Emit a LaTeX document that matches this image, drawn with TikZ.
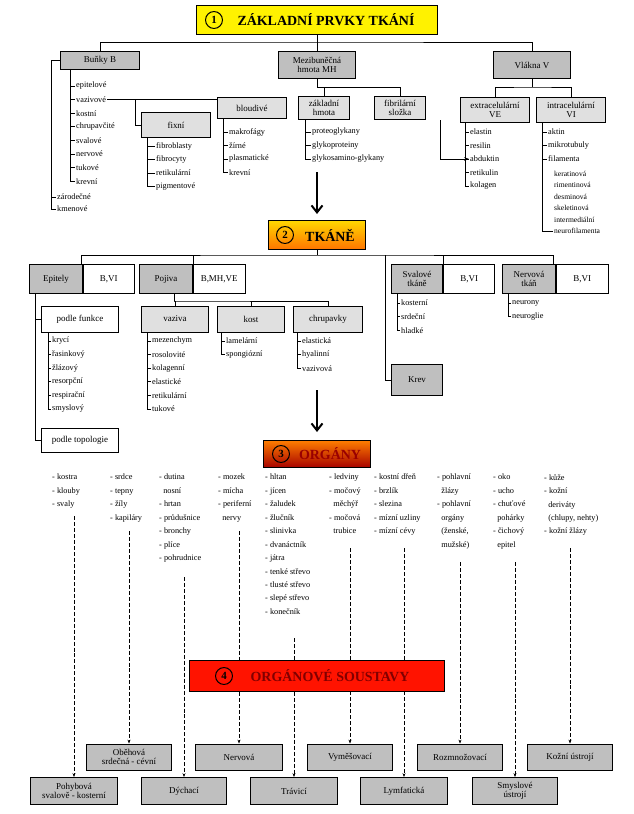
\documentclass[tikz,border=0pt]{standalone}
\usepackage{fontspec}
\setmainfont{Liberation Serif}
\usetikzlibrary{arrows.meta}

\tikzset{
  gbox/.style={draw, line width=0.9pt, fill=black!25, align=center, inner sep=1pt, font=\fontsize{9}{9.5}\selectfont},
  lbox/.style={draw, line width=0.9pt, fill=black!12, align=center, inner sep=1pt, font=\fontsize{9}{9.5}\selectfont},
  wbox/.style={draw, line width=0.9pt, fill=white, align=center, inner sep=1pt, font=\fontsize{9}{9.5}\selectfont},
  item/.style={anchor=west, inner sep=1pt, font=\fontsize{8.3}{9}\selectfont},
  orgtext/.style={anchor=north west, align=left, inner sep=0pt, font=\fontsize{8.3}{13.5}\selectfont},
  title/.style={draw, line width=1pt, font=\bfseries\fontsize{14}{14}\selectfont, inner sep=0pt},
  numcirc/.style={circle, draw, line width=1pt, minimum size=17, inner sep=0pt, font=\bfseries\fontsize{11}{11}\selectfont},
  link/.style={line width=0.8pt},
  dlink/.style={line width=1pt, dash pattern=on 4pt off 2pt, -{Stealth[length=4pt]}}
}

\begin{document}
\begin{tikzpicture}[x=1bp, y=-1bp]
\useasboundingbox (0,0) rectangle (634,814);

%% level 1
\node[title, fill=yellow, minimum width=242, minimum height=29] (t1) at (317,20) {};
\node[numcirc] (t1n) at (214,20) {1};
\node[font=\bfseries\fontsize{14}{14}\selectfont] (t1t) at (326,20) {ZÁKLADNÍ PRVKY TKÁNÍ};

\node[gbox, minimum width=79, minimum height=18] (bu) at (100,60) {Buňky B};
\node[gbox, minimum width=77, minimum height=27] (mh) at (317,65) {Mezibuněčná\\hmota MH};
\node[gbox, minimum width=77, minimum height=27] (vl) at (532,65) {Vlákna V};
\draw[link] (t1.south) -- (317,42);
\draw[link] (bu.north) |- (317,42) -| (vl.north);
\draw[link] (317,42) -- (mh.north);

%% bunky
\foreach \t [count=\i] in {epitelové,vazivové,kostní,chrupavčité,svalové,nervové,tukové,krevní}
  \node[item] (bu\i) at (75,86+13.6*\i-13.6) {\t};
\foreach \i in {1,...,8} \draw[link] (70,0 |- bu\i.west) -- (bu\i.west);
\draw[link] (70,69) -- (70,0 |- bu8.west);
\node[item] (bu9) at (56,197) {zárodečné};
\node[item] (bu10) at (56,209) {kmenové};
\draw[link] (bu.west) -| (51,0 |- bu10.west) -- (bu10.west);
\draw[link] (51,0 |- bu9.west) -- (bu9.west);

\node[lbox, minimum width=70, minimum height=25] (fx) at (176,125) {fixní};
\node[lbox, minimum width=70, minimum height=21] (bl) at (252,108) {bloudivé};
\draw[link] (bu2.east) -- (bl.west |- bu2.east);
\draw[link] (135,0 |- bu2.east) |- (fx.west);
\foreach \t [count=\i] in {fibroblasty,fibrocyty,retikulární,pigmentové}
  \node[item] (fx\i) at (155,146+13.5*\i-13.5) {\t};
\foreach \i in {1,...,4} \draw[link] (147,0 |- fx\i.west) -- (fx\i.west);
\draw[link] (147,137.5) -- (147,0 |- fx4.west);
\foreach \t [count=\i] in {makrofágy,žírné,plasmatické,krevní}
  \node[item] (bl\i) at (228,132+13.5*\i-13.5) {\t};
\foreach \i in {1,...,4} \draw[link] (223,0 |- bl\i.west) -- (bl\i.west);
\draw[link] (223,118.5) -- (223,0 |- bl4.west);

%% mezibunecna hmota
\node[lbox, minimum width=51, minimum height=23] (zh) at (324,108) {základní\\hmota};
\node[lbox, minimum width=51, minimum height=23] (fs) at (400,108) {fibrilární\\složka};
\draw[link] (mh.south) -- (317,87) -| (fs.north);
\draw[link] (zh.north) -- (zh.north |- 0,87);
\foreach \t [count=\i] in {proteoglykany,glykoproteiny,glykosamino-glykany}
  \node[item] (zh\i) at (311,132+13.5*\i-13.5) {\t};
\foreach \i in {1,...,3} \draw[link] (305,0 |- zh\i.west) -- (zh\i.west);
\draw[link] (305,119.5) -- (305,0 |- zh3.west);
\coordinate (fsa) at (440,120);

%% vlakna
\node[lbox, minimum width=70, minimum height=25] (ve) at (495,110) {extracelulární\\VE};
\node[lbox, minimum width=70, minimum height=25] (vi) at (571,110) {intracelulární\\VI};
\draw[link] (vl.south) -- (532,87);
\draw[link] (ve.north) |- (532,87) -| (vi.north);
\foreach \t [count=\i] in {elastin,resilin,abduktin,retikulin,kolagen}
  \node[item] (ve\i) at (469,132+13.5*\i-13.5) {\t};
\foreach \i in {1,...,5} \draw[link] (465,0 |- ve\i.west) -- (ve\i.west);
\draw[link] (465,122.5) -- (465,0 |- ve5.west);
\draw[link, -{Stealth[length=5pt]}] (fsa) |- (ve3.west);
\foreach \t [count=\i] in {aktin,mikrotubuly,filamenta}
  \node[item] (vi\i) at (547,132+13.5*\i-13.5) {\t};
\foreach \t [count=\i] in {keratinová,rimentinová,desminová,skeletinová,intermediální,neurofilamenta}
  \node[item, font=\fontsize{7.6}{8}\selectfont] (vf\i) at (553,174+11.4*\i-11.4) {\t};
\foreach \i in {1,...,3} \draw[link] (542,0 |- vi\i.west) -- (vi\i.west);
\draw[link] (542,122.5) -- (542,0 |- vf6.west) -- (vf6.west);

\draw[line width=2pt, -{Straight Barb[length=7pt, width=11pt]}] (317,172) -- (317,214);

%% level 2
\node[title, top color=yellow!70!orange, bottom color=orange!90!red, minimum width=98, minimum height=30] (t2) at (317,235) {};
\node[numcirc] (t2n) at (285,235) {2};
\node[font=\bfseries\fontsize{14}{14}\selectfont] (t2t) at (330,235) {TKÁNĚ};

\node[gbox, minimum width=53, minimum height=30] (ep) at (56,279) {Epitely};
\node[wbox, minimum width=51, minimum height=30, anchor=west] (epb) at (ep.east) {B,VI};
\node[gbox, minimum width=53, minimum height=30] (po) at (166,279) {Pojiva};
\node[wbox, minimum width=52, minimum height=30, anchor=west] (pob) at (po.east) {B,MH,VE};
\node[gbox, minimum width=52, minimum height=30] (sv) at (417,279) {Svalové\\tkáně};
\node[wbox, minimum width=51, minimum height=30, anchor=west] (svb) at (sv.east) {B,VI};
\node[gbox, minimum width=53, minimum height=30] (ne) at (529,279) {Nervová\\tkáň};
\node[wbox, minimum width=52, minimum height=30, anchor=west] (neb) at (ne.east) {B,VI};
\node[gbox, minimum width=52, minimum height=32] (kr) at (417,380) {Krev};
\draw[link] (t2.south) -- (317,255);
\draw[link] (81,264) |- (317,255) -| (553,264);
\draw[link] (193,255) -- (193,264);
\draw[link] (443,255) -- (443,264);
\draw[link] (385,255) |- (kr.west);

%% epitely
\node[wbox, minimum width=78, minimum height=26] (pf) at (80,319) {podle funkce};
\node[wbox, minimum width=78, minimum height=24] (pt) at (80,440) {podle topologie};
\draw[link] (35,294) |- (pt.west);
\draw[link] (35,0 |- pf.west) -- (pf.west);
\foreach \t [count=\i] in {krycí,řasinkový,žlázový,resorpční,respirační,smyslový}
  \node[item] (pf\i) at (51,341+13.6*\i-13.6) {\t};
\foreach \i in {1,...,6} \draw[link] (48,0 |- pf\i.west) -- (pf\i.west);
\draw[link] (48,332) -- (48,0 |- pf6.west);

%% pojiva
\node[lbox, minimum width=68, minimum height=26] (vz) at (175,319) {vaziva};
\node[lbox, minimum width=68, minimum height=26] (ko) at (251,319) {kost};
\node[lbox, minimum width=69, minimum height=26] (ch) at (328,319) {chrupavky};
\draw[link] (174,294) -- (174,301);
\draw[link] (vz.north) |- (174,301) -| (ch.north);
\draw[link] (ko.north) -- (ko.north |- 0,301);
\foreach \t [count=\i] in {mezenchym,rosolovité,kolagenní,elastické,retikulární,tukové}
  \node[item] (vz\i) at (151,341+13.6*\i-13.6) {\t};
\foreach \i in {1,...,6} \draw[link] (147,0 |- vz\i.west) -- (vz\i.west);
\draw[link] (147,332) -- (147,0 |- vz6.west);
\foreach \t [count=\i] in {lamelární,spongiózní}
  \node[item] (ko\i) at (225,341+13.6*\i-13.6) {\t};
\foreach \i in {1,2} \draw[link] (221,0 |- ko\i.west) -- (ko\i.west);
\draw[link] (221,332) -- (221,0 |- ko2.west);
\foreach \t [count=\i] in {elastická,hyalinní,vazivová}
  \node[item] (ch\i) at (301,341+13.6*\i-13.6) {\t};
\foreach \i in {1,...,3} \draw[link] (297,0 |- ch\i.west) -- (ch\i.west);
\draw[link] (297,332) -- (297,0 |- ch3.west);

%% svalove, nervova
\foreach \t [count=\i] in {kosterní,srdeční,hladké}
  \node[item] (sv\i) at (400,303+13.6*\i-13.6) {\t};
\foreach \i in {1,...,3} \draw[link] (397,0 |- sv\i.west) -- (sv\i.west);
\draw[link] (397,294) -- (397,0 |- sv3.west);
\foreach \t [count=\i] in {neurony,neuroglie}
  \node[item] (ne\i) at (511,303+13.6*\i-13.6) {\t};
\foreach \i in {1,2} \draw[link] (508,0 |- ne\i.west) -- (ne\i.west);
\draw[link] (508,294) -- (508,0 |- ne2.west);

\draw[line width=2pt, -{Straight Barb[length=7pt, width=11pt]}] (317,390) -- (317,432);

%% level 3
\node[title, top color=orange, bottom color=red!65!black, minimum width=107, minimum height=28] (t3) at (317,454) {};
\node[numcirc] (t3n) at (281,454) {3};
\node[font=\bfseries\fontsize{14}{14}\selectfont, text=red!60!black] (t3t) at (330,454) {ORGÁNY};

\node[orgtext] (o1) at (52,474) {- kostra\\- klouby\\- svaly};
\node[orgtext] (o2) at (110,474) {- srdce\\- tepny\\- žíly\\- kapiláry};
\node[orgtext] (o3) at (159,474) {- dutina\\\ \ nosní\\- hrtan\\- průdušnice\\- bronchy\\- plíce\\- pohrudnice};
\node[orgtext] (o4) at (218,474) {- mozek\\- mícha\\- periferní\\\ \ nervy};
\node[orgtext] (o5) at (265,474) {- hltan\\- jícen\\- žaludek\\- žlučník\\- slinivka\\- dvanáctník\\- játra\\- tenké střevo\\- tlusté střevo\\- slepé střevo\\- konečník};
\node[orgtext] (o6) at (329,474) {- ledviny\\- močový\\\ \ měchýř\\- močová\\\ \ trubice};
\node[orgtext] (o7) at (374,474) {- kostní dřeň\\- brzlík\\- slezina\\- mízní uzliny\\- mízní cévy};
\node[orgtext] (o8) at (437,474) {- pohlavní\\\ \ žlázy\\- pohlavní\\\ \ orgány\\\ \ (ženské,\\\ \ mužské)};
\node[orgtext] (o9) at (493,474) {- oko\\- ucho\\- chuťové\\\ \ pohárky\\- čichový\\\ \ epitel};
\node[orgtext] (o10) at (544,474) {- kůže\\- kožní\\\ \ deriváty\\\ \ (chlupy, nehty)\\- kožní žlázy};

%% level 4 targets
\node[gbox, minimum width=87, minimum height=27] (s1) at (74,791) {Pohybová\\svalově - kosterní};
\node[gbox, minimum width=86, minimum height=26] (s2) at (129,757) {Oběhová\\srdečná - cévní};
\node[gbox, minimum width=86, minimum height=27] (s3) at (184,791) {Dýchací};
\node[gbox, minimum width=87, minimum height=26] (s4) at (239,757) {Nervová};
\node[gbox, minimum width=87, minimum height=27] (s5) at (294,791) {Trávicí};
\node[gbox, minimum width=86, minimum height=26] (s6) at (350,757) {Vyměšovací};
\node[gbox, minimum width=88, minimum height=27] (s7) at (404,791) {Lymfatická};
\node[gbox, minimum width=86, minimum height=26] (s8) at (460,757) {Rozmnožovací};
\node[gbox, minimum width=86, minimum height=27] (s9) at (515,791) {Smyslové\\ústrojí};
\node[gbox, minimum width=86, minimum height=26] (s10) at (570,757) {Kožní ústrojí};

\draw[dlink] (74,516) -- (s1.north);
\draw[dlink] (129,531) -- (s2.north);
\draw[dlink] (184,577) -- (s3.north);
\draw[dlink] (239,531) -- (s4.north);
\draw[dlink] (294,638) -- (s5.north);
\draw[dlink] (350,548) -- (s6.north);
\draw[dlink] (404,548) -- (s7.north);
\draw[dlink] (460,562) -- (s8.north);
\draw[dlink] (515,562) -- (s9.north);
\draw[dlink] (570,548) -- (s10.north);

%% level 4
\node[title, fill=red!85!orange, minimum width=255, minimum height=31] (t4) at (317,676) {};
\node[numcirc] (t4n) at (224,676) {4};
\node[font=\bfseries\fontsize{14}{14}\selectfont, text=red!50!black] (t4t) at (330,676) {ORGÁNOVÉ SOUSTAVY};
\end{tikzpicture}
\end{document}
